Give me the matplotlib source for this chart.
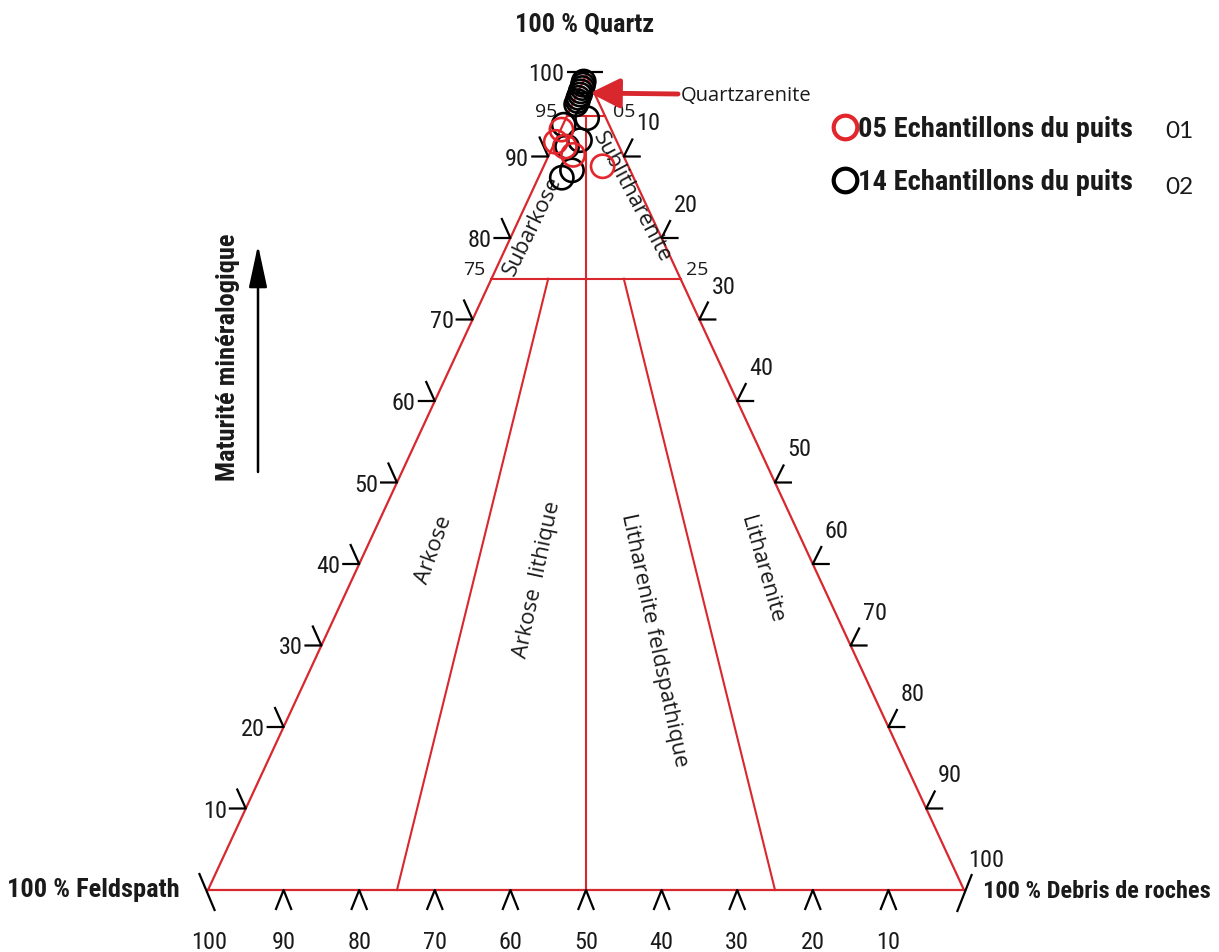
import os
import matplotlib
matplotlib.use("Agg")
import matplotlib.pyplot as plt
from matplotlib.lines import Line2D
import matplotlib.font_manager as fm
from matplotlib.font_manager import FontProperties

# ---------------- data (Q = quartz %, F = feldspath %, R = debris de roches %) -------------
well01_Q = [93.3, 91.8, 91.2, 90.2, 88.8]
well01_F = [6.6, 8.1, 7.2, 6.6, 3.4]
well01_R = [0.1, 0.1, 1.6, 3.2, 7.8]

well02_Q = [99.2, 98.8, 98.4, 98.0, 97.6, 97.2, 96.8, 96.4, 94.7, 93.9, 92.0, 91.2, 88.3, 87.4]
well02_F = [0.7, 1.0, 1.3, 1.7, 2.0, 2.4, 2.7, 3.1, 2.5, 6.0, 4.8, 6.9, 7.7, 9.5]
well02_R = [0.1, 0.2, 0.3, 0.3, 0.4, 0.4, 0.5, 0.5, 2.8, 0.1, 3.2, 1.9, 4.0, 3.1]

legend_labels = ["05 Echantillons du puits", "14 Echantillons du puits"]
well_ids = ["01", "02"]

left_ticks = [10, 20, 30, 40, 50, 60, 70, 80, 90]        # Quartz
right_ticks = [10, 20, 30, 40, 50, 60, 70, 80, 90]       # Debris
bottom_ticks = [90, 80, 70, 60, 50, 40, 30, 20, 10]      # Feldspath

# Folk classification boundaries (Q, F, R) start -> end
boundaries = [
    ((95, 5, 0), (95, 0, 5)),
    ((75, 25, 0), (75, 0, 25)),
    ((95, 2.5, 2.5), (0, 50, 50)),
    ((75, 17.5, 7.5), (0, 75, 25)),
    ((75, 7.5, 17.5), (0, 25, 75)),
]
field_names = ["Subarkose", "Sublitharenite", "Arkose", "Arkose  lithique",
               "Litharenite feldspathique", "Litharenite"]


# ---------------- fonts ----------------
def _wnum(f):
    w = f.weight
    if isinstance(w, str):
        return {"bold": 700, "normal": 400, "regular": 400, "book": 400}.get(w.lower(), 400)
    return int(w)


def find_condensed():
    groups = {}
    for f in fm.fontManager.ttflist:
        nm = f.name.lower()
        fn = os.path.basename(f.fname).lower()
        st = str(f.stretch).lower()
        if "italic" in fn or "oblique" in fn or "mono" in nm or "serif" in nm:
            continue
        if nm == "liberation sans narrow":
            pr = 0
        elif "roboto" in nm and ("condensed" in nm or "condensed" in fn):
            pr = 1
        elif ("condensed" in fn or "narrow" in fn) and "semi" not in fn and "extra" not in fn \
                and "ultra" not in fn:
            pr = 2
        elif "dejavu sans" in nm and "condensed" in (fn + st):
            pr = 3
        else:
            continue
        groups.setdefault(pr, []).append(f)
    for pr in sorted(groups):
        fs = groups[pr]
        bold = [f for f in fs if 650 <= _wnum(f) <= 750]
        reg = [f for f in fs if 380 <= _wnum(f) <= 420]
        if bold and reg:
            return bold[0].fname, reg[0].fname
    return None, None


BOLD_FILE, REG_FILE = find_condensed()


def fp_bold(size):
    if BOLD_FILE:
        p = FontProperties(fname=BOLD_FILE)
    else:
        p = FontProperties(family="Liberation Sans", weight="bold")
    p.set_size(size)
    return p


def fp_reg(size):
    if REG_FILE:
        p = FontProperties(fname=REG_FILE)
    else:
        p = FontProperties(family="Liberation Sans")
    p.set_size(size)
    return p


MYR = "Open Sans"
CAL = "Lato"
RED = "#d9272e"
PTRED = "#e3262b"
INK = "#1a1a1a"

# ---------------- figure ----------------
W, H = 1219, 952
fig = plt.figure(figsize=(W / 100, H / 100), dpi=100)
ax = fig.add_axes([0, 0, 1, 1])
SX, SY = 7.56, 8.15          # pixels per data unit
X0, Y0 = 208, 890            # pixel of (0, 0)
ax.set_xlim(-X0 / SX, (W - X0) / SX)
ax.set_ylim(-(H - Y0) / SY, Y0 / SY)
ax.axis("off")


def tern(q, f, r):
    return r + q / 2.0, q


def P(px, py):
    return (px - X0) / SX, (Y0 - py) / SY


def off(pt, dx, dy):
    return pt[0] + dx / SX, pt[1] + dy / SY


# triangle + boundaries
A, B, C = tern(100, 0, 0), tern(0, 100, 0), tern(0, 0, 100)
ax.plot([B[0], C[0], A[0], B[0]], [B[1], C[1], A[1], B[1]], color=RED, lw=1.6,
        solid_joinstyle="miter", zorder=2)
for s, e in boundaries:
    p1, p2 = tern(*s), tern(*e)
    ax.plot([p1[0], p2[0]], [p1[1], p2[1]], color=RED, lw=1.5, zorder=2)

# ---------------- tick marks ----------------
TK = dict(color="black", lw=1.6, zorder=3, solid_capstyle="butt")
TFS = 17.5
for v in left_ticks:
    p = tern(v, 100 - v, 0)
    a, b = off(p, -17, 0), off(p, -9, 20)
    ax.plot([a[0], p[0], b[0]], [a[1], p[1], b[1]], **TK)
    ax.annotate(str(v), p, xytext=(-19, 0), textcoords="offset pixels", ha="right",
                va="center_baseline", fontproperties=fp_reg(TFS), color=INK)
a, b = off(A, -19, 3), off(A, 17, 3)
ax.plot([a[0], b[0]], [a[1], b[1]], **TK)
ax.annotate("100", A, xytext=(-22, 3), textcoords="offset pixels", ha="right",
            va="center_baseline", fontproperties=fp_reg(TFS), color=INK)

for v in right_ticks:
    p = tern(100 - v, 0, v)
    a, b = off(p, 9, 18), off(p, 17, 0)
    ax.plot([a[0], p[0], b[0]], [a[1], p[1], b[1]], **TK)
    ax.annotate(str(v), p, xytext=(24, 35), textcoords="offset pixels", ha="center",
                va="center_baseline", fontproperties=fp_reg(TFS), color=INK)
a, b = off(C, 8, 16), off(C, -7, -22)
ax.plot([a[0], b[0]], [a[1], b[1]], **TK)
ax.annotate("100", C, xytext=(22, 32), textcoords="offset pixels", ha="center",
            va="center_baseline", fontproperties=fp_reg(TFS), color=INK)

for v in bottom_ticks:
    p = tern(0, v, 100 - v)
    a, b = off(p, -8, -20), off(p, 8, -20)
    ax.plot([a[0], p[0], b[0]], [a[1], p[1], b[1]], **TK)
    ax.annotate(str(v), p, xytext=(0, -50), textcoords="offset pixels", ha="center",
                va="center_baseline", fontproperties=fp_reg(TFS), color=INK)
a, b = off(B, -9, 17), off(B, 7, -21)
ax.plot([a[0], b[0]], [a[1], b[1]], **TK)
ax.annotate("100", B, xytext=(1, -50), textcoords="offset pixels", ha="center",
            va="center_baseline", fontproperties=fp_reg(TFS), color=INK)

# small boundary labels
SFS = 14
for txt, q, side, dx, dy in [("95", 95, "L", -21, 6), ("05", 95, "R", 19, 6),
                             ("75", 75, "L", -17, 11), ("25", 75, "R", 17, 11)]:
    p = tern(q, 100 - q, 0) if side == "L" else tern(q, 0, 100 - q)
    ax.annotate(txt, p, xytext=(dx, dy), textcoords="offset pixels", ha="center",
                va="center_baseline", fontsize=SFS, family=MYR, color=INK)

# ---------------- field names ----------------
FFS = 15.8
for name, (px, py), rot in zip(field_names,
                               [(533, 226), (632, 197), (434, 550), (537, 580), (654, 640), (762, 570)],
                               [64, -62, 70, 78, -78, -74]):
    ax.text(*P(px, py), name, rotation=rot, ha="center", va="center", fontsize=FFS,
            family=MYR, color=INK, rotation_mode="anchor")

# ---------------- samples ----------------
x1 = [r + q / 2 for q, r in zip(well01_Q, well01_R)]
x2 = [r + q / 2 for q, r in zip(well02_Q, well02_R)]
ax.scatter(x2, well02_Q, s=280, facecolors="none", edgecolors="black", linewidths=1.9, zorder=5)
ax.scatter(x1, well01_Q, s=280, facecolors="none", edgecolors=PTRED, linewidths=1.9, zorder=6)

# Quartzarenite arrow + label
ax.annotate("", xy=P(590, 93), xytext=P(678, 94),
            arrowprops=dict(arrowstyle="-|>,head_length=0.9,head_width=0.45", lw=3.5,
                            color=RED, mutation_scale=20, shrinkA=0, shrinkB=0), zorder=7)
ax.text(*P(681, 96), "Quartzarenite", ha="left", va="center", fontsize=14.5, family=MYR,
        color=INK)

# ---------------- big labels ----------------
BFS = 19
ax.text(*P(585, 25), "100 % Quartz", ha="center", va="center", fontproperties=fp_bold(BFS),
        color=INK)
ax.text(*P(180, 890), "100 % Feldspath", ha="right", va="center", fontproperties=fp_bold(BFS),
        color=INK)
ax.text(*P(983, 892), "100 % Debris de roches", ha="left", va="center",
        fontproperties=fp_bold(17.6), color=INK)
ax.text(*P(228, 357), "Maturité minéralogique", rotation=90, ha="center", va="center",
        fontproperties=fp_bold(BFS), color=INK)
ax.annotate("", xy=P(258, 245), xytext=P(258, 472),
            arrowprops=dict(arrowstyle="-|>,head_length=1.3,head_width=0.28", lw=1.8,
                            color="black", mutation_scale=20, shrinkA=0, shrinkB=0))

# ---------------- legend ----------------
handles = [Line2D([], [], marker="o", ls="none", mfc="none", mec=PTRED, ms=17, mew=3),
           Line2D([], [], marker="o", ls="none", mfc="none", mec="black", ms=17, mew=3)]
leg = ax.legend(handles, legend_labels, loc="upper left",
                bbox_to_anchor=(832 / W, 1 - 116 / H), bbox_transform=fig.transFigure,
                frameon=False, borderpad=0, borderaxespad=0, handlelength=0.9,
                handletextpad=0.0, labelspacing=0.9, prop=fp_bold(20.5))
for t in leg.get_texts():
    t.set_color(INK)
for wid, py in zip(well_ids, [131, 188]):
    ax.text(*P(1165, py), wid, ha="left", va="center", fontsize=17.5, family=CAL, color=INK)

fig.savefig("out.png", dpi=100)
